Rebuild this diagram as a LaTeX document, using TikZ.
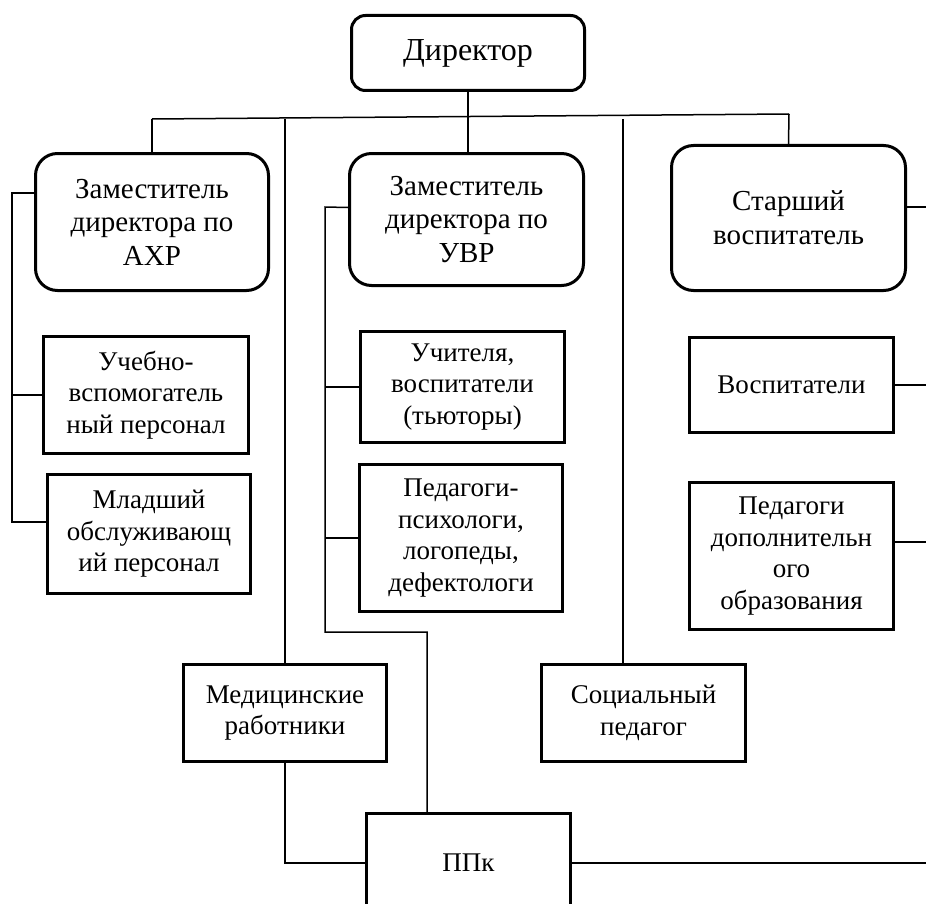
\documentclass[tikz,border=0pt]{standalone}
\usepackage{fontspec}
\setmainfont{Liberation Serif}
\usetikzlibrary{calc}
\tikzset{
  head/.style={draw, line width=1.5pt, rounded corners=11pt, align=center, inner sep=0pt, font=\fontsize{14.5}{16.8}\selectfont},
  unit/.style={draw, line width=1.5pt, align=center, inner sep=0pt, font=\fontsize{13.5}{15.7}\selectfont},
  link/.style={line width=0.75pt}
}

\begin{document}
\begin{tikzpicture}[x=0.5pt, y=-0.5pt]
			%%%%% START %%%%%
			\clip (0,0) rectangle (926,904);
			
			\node[head, rounded corners=7pt, font=\fontsize{16}{18}\selectfont, minimum width=116.5pt, minimum height=37.5pt] (dir) at (468,53) {Директор};
			
			\node[head, minimum width=116.5pt, minimum height=68.5pt] (axr) at (152,222) {Заместитель\\директора по\\АХР};
			\node[head, minimum width=117pt, minimum height=66pt] (uvr) at (466.5,219.5) {Заместитель\\директора по\\УВР};
			\node[head, minimum width=117pt, minimum height=72.5pt] (star) at (788.5,218) {Старший\\воспитатель};
			
			\node[unit, minimum width=102.5pt, minimum height=58.5pt] (ucheb) at (146,395) {Учебно-\\вспомогатель\\ный персонал};
			\node[unit, minimum width=101.5pt, minimum height=59.5pt] (mlad) at (149,534) {Младший\\обслуживающ\\ий персонал};
			
			\node[unit, minimum width=102pt, minimum height=55.5pt] (uchit) at (462.5,387) {Учителя,\\воспитатели\\(тьюторы)};
			\node[unit, minimum width=101.5pt, minimum height=73.5pt] (psych) at (461,538) {Педагоги-\\психологи,\\логопеды,\\дефектологи};
			
			\node[unit, minimum width=102pt, minimum height=47.5pt] (vosp) at (791.5,385) {Воспитатели};
			\node[unit, minimum width=102pt, minimum height=73.5pt] (dop) at (791.5,556) {Педагоги\\дополнительн\\ого\\образования};
			
			\node[unit, minimum width=101.5pt, minimum height=48.5pt] (med) at (285,713) {Медицинские\\работники};
			\node[unit, minimum width=102pt, minimum height=48.5pt] (soc) at (643.5,713) {Социальный\\педагог};
			\node[unit, minimum width=102pt, minimum height=49.5pt] (ppk) at (468.5,863) {ППк};
			
			% bus under the director
			\coordinate (bl) at (152,119);
			\coordinate (br) at (789,114);
			\draw[link] (bl) -- (br);
			\draw[link] (dir.south) -- (dir.south |- uvr.north);
			\draw[link] (bl) -- (axr.north);
			\draw[link] (br) -- (star.north);
			\draw[link] (med.north) -- (med.north |- bl);
			\coordinate (sx) at ($(soc.north west)!0.4!(soc.north east)$);
			\draw[link] (sx) -- (sx |- bl);
			
			% AXP branch
			\coordinate (lx) at (12,193);
			\draw[link] ($(axr.west)+(0,-29)$) -- (lx) |- ($(mlad.west)+(0,-12)$);
			\draw[link] (ucheb.west) -- (ucheb.west -| lx);
			
			% UVR branch
			\coordinate (ux) at (325,207);
			\coordinate (uk) at (325,632);
			\draw[link] ($(uvr.west)+(0,-12)$) -- (ux) -- (uk) -| ($(ppk.north west)+(62,0)$);
			\draw[link] (uchit.west) -- (uchit.west -| ux);
			\draw[link] (psych.west) -- (psych.west -| ux);
			
			% right side, cut by the edge
			\draw[link] ($(star.east)+(0,-11)$) -- ++(40,0);
			\draw[link] (vosp.east) -- ++(40,0);
			\draw[link] ($(dop.east)+(0,-14)$) -- ++(40,0);
			\draw[link] (ppk.east) -- ++(400,0);
			
			% PPk
			\draw[link] (med.south) |- (ppk.west);
			%%%%% END %%%%%
\end{tikzpicture}
\end{document}
